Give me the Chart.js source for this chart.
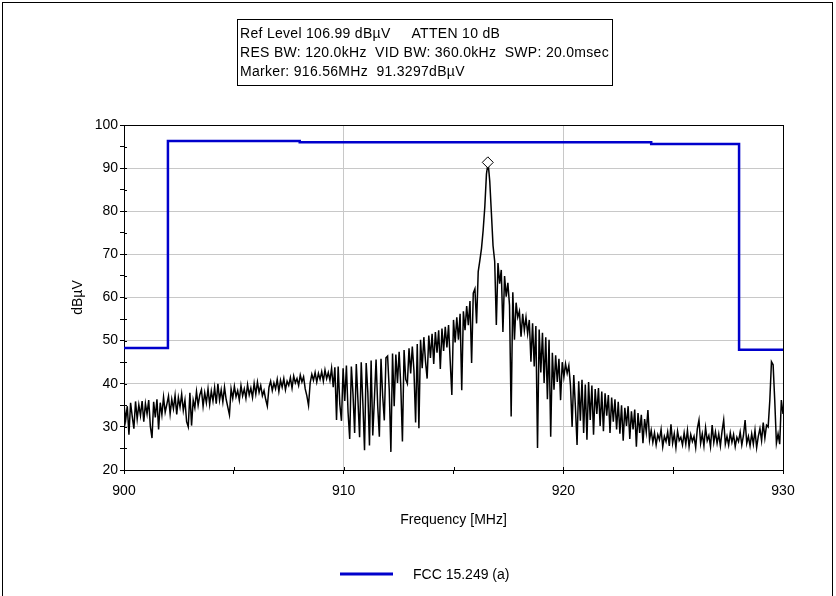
<!DOCTYPE html>
<html>
<head>
<meta charset="utf-8">
<title>FCC 15.249 (a) scan</title>
<script src="https://cdn.jsdelivr.net/npm/chart.js@4.4.1/dist/chart.umd.min.js"></script>
<style>
  html, body { margin: 0; padding: 0; background: #fff; }
  #wrap { position: relative; width: 836px; height: 596px; overflow: hidden; }
  #frame { position: absolute; left: 2px; top: 2px; width: 831px; height: 640px; border: 1px solid #000; box-sizing: border-box; pointer-events: none; }
  canvas { position: absolute; left: 0; top: 0; }
</style>
</head>
<body>
<div id="wrap">
  <canvas id="myChart" width="836" height="596"></canvas>
  <div id="frame"></div>
</div>
<script>
'use strict'

// sweep of the analyzer: 401 points from 900 to 930 MHz
const sweepStart = 900;
const sweepStep = 0.075;

const traceLevel = [
  35.2, 31.5, 34.8, 28.2, 35.6, 32.4, 29.6, 35.9, 31.8, 35.1, 32.6, 36.0, 31.2, 35.4, 33.0, 36.2, 30.1, 27.4, 35.8, 32.2,
  36.4, 29.4, 35.6, 32.8, 36.9, 33.4, 35.2, 37.1, 33.0, 36.4, 34.2, 37.3, 32.9, 36.8, 34.6, 37.6, 33.8, 36.2, 31.2, 30.0,
  37.9, 30.3, 36.2, 34.4, 38.2, 35.0, 37.4, 38.6, 34.8, 37.9, 35.6, 38.8, 35.2, 38.3, 36.0, 39.1, 35.4, 40.0, 36.2, 38.6,
  35.8, 39.2, 36.4, 34.6, 32.8, 38.8, 36.6, 39.4, 37.0, 38.4, 36.2, 39.6, 37.2, 38.8, 36.6, 39.8, 37.4, 39.0, 36.8, 40.1,
  37.6, 40.4, 38.0, 39.6, 37.2, 38.4, 36.4, 34.8, 39.2, 40.6, 38.4, 40.2, 38.8, 41.0, 38.2, 40.8, 39.2, 41.2, 38.6, 40.6,
  39.6, 41.4, 39.0, 41.8, 40.2, 41.2, 39.6, 42.0, 40.4, 41.6, 38.8, 37.2, 35.0, 40.2, 42.2, 40.8, 42.6, 40.4, 42.4, 41.0,
  42.8, 40.6, 43.2, 41.2, 42.6, 40.8, 43.6, 39.2, 43.8, 31.6, 44.0, 35.2, 31.4, 43.6, 36.0, 44.2, 33.4, 27.2, 44.0, 37.6,
  28.6, 44.6, 36.2, 27.6, 45.0, 35.4, 24.6, 44.8, 38.0, 25.7, 45.4, 28.0, 36.6, 45.6, 34.8, 27.7, 45.8, 37.2, 31.5, 46.0,
  46.4, 38.6, 24.2, 47.0, 34.8, 46.8, 40.2, 47.4, 39.6, 26.6, 47.8, 41.0, 40.0, 48.2, 42.4, 48.6, 43.0, 31.0, 49.2, 29.7,
  50.2, 43.6, 50.8, 45.2, 41.2, 51.2, 46.0, 51.6, 44.6, 52.0, 47.2, 52.4, 43.4, 52.8, 47.6, 53.2, 48.4, 53.6, 45.2, 37.4,
  54.8, 49.6, 55.4, 50.2, 56.2, 38.5, 56.8, 52.4, 58.0, 53.6, 59.2, 44.8, 61.0, 62.0, 54.0, 66.0, 68.6, 71.4, 75.6, 81.0,
  88.6, 91.3, 87.0, 79.6, 72.0, 68.4, 53.6, 68.0, 63.2, 66.4, 52.0, 65.0, 60.2, 63.4, 58.2, 32.4, 61.2, 50.2, 58.8, 55.4,
  56.8, 50.9, 56.2, 52.4, 55.4, 51.6, 54.8, 45.1, 54.0, 44.0, 53.4, 25.1, 52.6, 42.6, 51.8, 40.2, 50.8, 36.4, 50.2, 27.7,
  47.2, 38.6, 46.6, 40.4, 45.8, 36.2, 45.0, 41.6, 44.6, 42.4, 44.2, 39.6, 30.0, 42.0, 34.6, 25.8, 40.6, 31.4, 40.9, 28.6,
  39.8, 27.0, 40.4, 31.6, 39.6, 28.2, 38.8, 33.0, 39.0, 30.2, 38.2, 29.0, 37.8, 32.6, 37.4, 28.6, 36.8, 31.2, 36.4, 29.4,
  35.8, 28.4, 35.0, 26.8, 34.4, 30.2, 34.8, 27.2, 33.6, 29.4, 34.0, 25.4, 33.2, 28.6, 32.8, 26.2, 31.8, 28.8, 33.9, 27.0,
  29.2, 26.4, 28.6, 25.8, 28.2, 27.0, 29.4, 25.4, 27.8, 26.6, 28.8, 25.6, 30.6, 26.2, 28.4, 25.2, 29.0, 26.8, 27.6, 25.8,
  28.6, 26.0, 29.2, 25.4, 28.2, 26.6, 27.8, 25.2, 29.6, 31.6, 26.2, 28.4, 25.6, 29.8, 26.8, 28.0, 25.4, 30.4, 26.4, 28.8,
  26.2, 28.4, 25.6, 29.0, 31.6, 26.0, 27.8, 25.8, 28.6, 26.4, 28.2, 25.4, 27.6, 26.6, 28.8, 25.8, 28.0, 31.6, 26.2, 27.8,
  25.6, 28.4, 26.0, 29.2, 25.2, 27.8, 29.6, 26.8, 31.0, 27.4, 30.4, 30.0, 36.2, 45.1, 44.4, 36.0, 26.2, 28.4, 26.0, 36.2,
  33.0
];

// FCC 15.249 (a) limit line
const limitFreq = [900, 902, 902, 908, 908, 924, 924, 928, 928, 930];
const limitLevel = [48.3, 48.3, 96.3, 96.3, 96.0, 96.0, 95.6, 95.6, 47.9, 47.9];

// marker
const markerFreq = [916.56];
const markerLevel = [91.33];

const infoLines = [
  'Ref Level 106.99 dBµV     ATTEN 10 dB',
  'RES BW: 120.0kHz  VID BW: 360.0kHz  SWP: 20.0msec',
  'Marker: 916.56MHz  91.3297dBµV'
];

const limitColor = '#0000cc';
const fontFamily = '"Liberation Sans", Arial, sans-serif';

Chart.defaults.font.family = fontFamily;
Chart.defaults.font.size = 14;
Chart.defaults.color = '#000';

const traceData = traceLevel.map((v, i) => ({ x: sweepStart + i * sweepStep, y: v }));
const limitData = limitFreq.map((f, i) => ({ x: f, y: limitLevel[i] }));
const markerData = markerFreq.map((f, i) => ({ x: f, y: markerLevel[i] }));

function gridColor(lo, hi) {
  return function (c) {
    const v = c.tick.value;
    if (v === lo || v === hi) return '#000';
    if (v % 10 === 0) return '#c8c8c8';
    return 'rgba(0,0,0,0)';
  };
}

//draws the info box, legend and the short inner tick marks
const extrasPlugin = {
  id: 'extras',
  afterDraw(chart) {
    const ctx = chart.ctx;
    const area = chart.chartArea;
    const xs = chart.scales.x;
    const ys = chart.scales.y;
    ctx.save();

    ctx.strokeStyle = '#000';
    ctx.lineWidth = 1;
    ctx.beginPath();
    xs.ticks.forEach(t => {
      const px = Math.round(xs.getPixelForValue(t.value)) + 0.5;
      ctx.moveTo(px, area.bottom);
      ctx.lineTo(px, area.bottom - 3);
    });
    ys.ticks.forEach(t => {
      const py = Math.round(ys.getPixelForValue(t.value)) + 0.5;
      ctx.moveTo(area.left, py);
      ctx.lineTo(area.left + 3, py);
    });
    ctx.stroke();

    ctx.strokeRect(237.5, 19.5, 375, 66);
    ctx.font = '14px ' + fontFamily;
    ctx.fillStyle = '#000';
    ctx.textBaseline = 'alphabetic';
    ctx.textAlign = 'left';
    ctx.letterSpacing = '0.3px';
    infoLines.forEach((line, i) => {
      ctx.fillText(line, 240, 38 + i * 19);
    });
    ctx.letterSpacing = '0px';

    ctx.strokeStyle = limitColor;
    ctx.lineWidth = 3;
    ctx.beginPath();
    ctx.moveTo(340, 574);
    ctx.lineTo(393, 574);
    ctx.stroke();
    ctx.fillText(chart.data.datasets[0].label, 413, 579);

    ctx.restore();
  }
};

const myChart = new Chart(document.getElementById('myChart'), {
  type: 'line',
  data: {
    datasets: [
      {
        label: 'FCC 15.249 (a)',
        data: limitData,
        borderColor: limitColor,
        borderWidth: 2.5,
        pointRadius: 0,
        order: 1
      },
      {
        label: 'Trace',
        data: traceData,
        borderColor: '#000',
        borderWidth: 1.5,
        pointRadius: 0,
        order: 2
      },
      {
        label: 'Marker',
        type: 'scatter',
        data: markerData,
        pointStyle: 'rectRot',
        pointRadius: 5.5,
        backgroundColor: '#fff',
        borderColor: '#000',
        borderWidth: 1,
        order: 0
      }
    ]
  },
  options: {
    responsive: false,
    animation: false,
    layout: { padding: { left: 64, right: 53, top: 125, bottom: 66 } },
    plugins: {
      legend: { display: false },
      tooltip: { enabled: false }
    },
    scales: {
      x: {
        type: 'linear',
        min: 900,
        max: 930,
        afterFit: s => { s.height = 60; },
        ticks: {
          stepSize: 5,
          autoSkip: false,
          maxRotation: 0,
          padding: 9,
          callback: v => (v % 10 === 0 ? v : '')
        },
        grid: { color: gridColor(900, 930), tickColor: '#000', tickLength: 4 },
        border: { color: '#000' },
        title: { display: true, text: 'Frequency [MHz]', padding: { top: 4, bottom: 1 } }
      },
      y: {
        min: 20,
        max: 100,
        afterFit: s => { s.width = 60; },
        ticks: {
          stepSize: 5,
          autoSkip: false,
          padding: 2,
          callback: v => (v % 10 === 0 ? v : '')
        },
        grid: { color: gridColor(20, 100), tickColor: '#000', tickLength: 4 },
        border: { color: '#000' },
        title: { display: true, text: 'dBµV', padding: { top: 6, bottom: 4 } }
      }
    }
  },
  plugins: [extrasPlugin]
});
</script>
</body>
</html>
